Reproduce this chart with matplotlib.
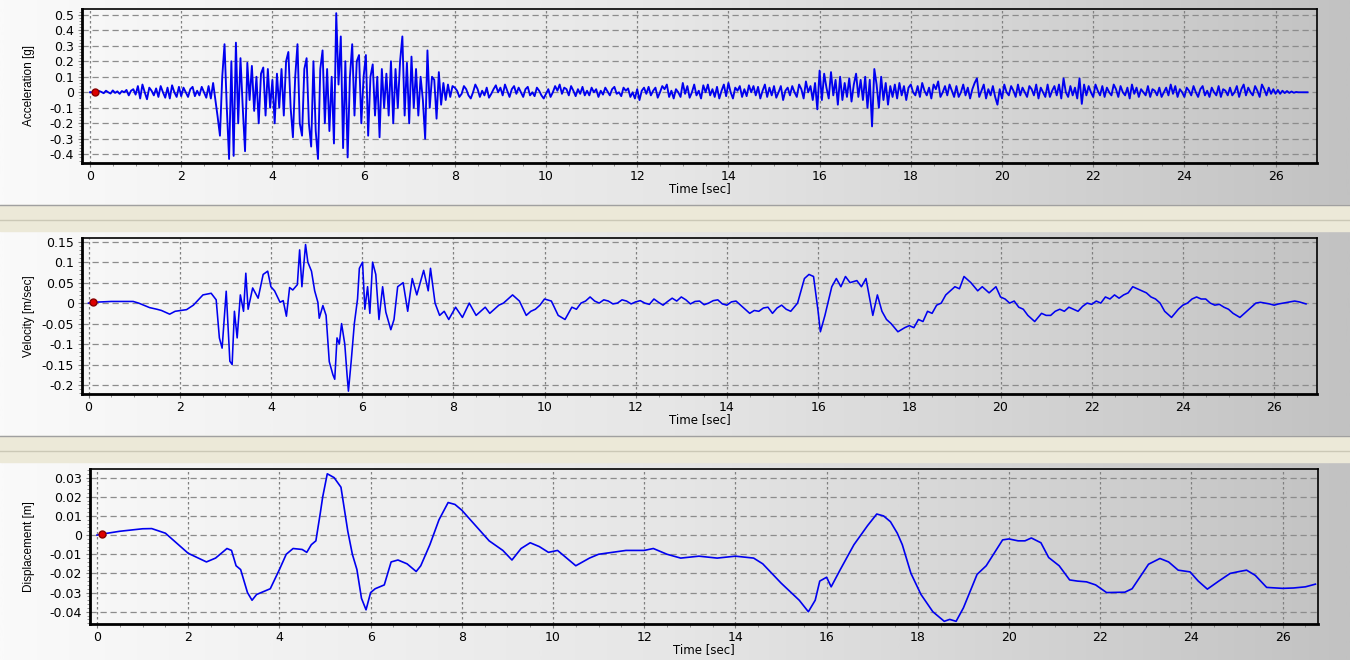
"""Acceleration / velocity / displacement time histories of a ground-motion record."""

import numpy as np
import matplotlib
matplotlib.use("Agg")
import matplotlib.pyplot as plt
from matplotlib.colors import LinearSegmentedColormap
from matplotlib.ticker import MultipleLocator, AutoMinorLocator, FormatStrFormatter

plt.rcParams["axes.unicode_minus"] = False

# --- Data --------------------------------------------------------------------
# acceleration, sampled every ACC_DT seconds, one row per second
ACC_DT = 0.05
ACC_G = [
    0, 0, 0.005, -0.005, 0.008, 0.002, -0.006, 0.01, 0.0, -0.008, 0.012, -0.004, 0.006, -0.01, 0.008, 0.0, 0.015, -0.02, 0.01, 0.02,
    -0.015, 0.04, -0.04, 0.05, 0.0, -0.045, 0.03, 0.01, -0.02, 0.025, -0.03, 0.04, 0.0, -0.035, 0.03, -0.04, 0.045, 0.0, -0.03, 0.035,
    -0.025, 0.03, 0.0, -0.03, 0.02, 0.035, -0.025, 0.01, -0.02, 0.035, 0.0, -0.035, 0.04, -0.04, 0.06, -0.05, -0.16, -0.28, 0.1, 0.31,
    -0.1, -0.43, 0.2, -0.41, 0.32, -0.2, 0.22, -0.1, -0.38, 0.19, -0.05, 0.17, -0.12, 0.1, -0.2, 0.12, 0.16, -0.15, 0.15, -0.1,
    0.08, -0.2, 0.12, -0.1, 0.15, -0.15, 0.2, 0.26, -0.1, -0.29, 0.1, 0.31, -0.2, -0.28, 0.15, 0.22, -0.2, -0.35, 0.2, -0.25,
    -0.43, 0.15, 0.27, -0.2, 0.15, -0.25, 0.1, -0.33, 0.51, 0.05, 0.36, -0.36, 0.2, -0.42, 0.1, 0.31, -0.15, 0.2, 0.24, -0.2,
    0.1, 0.24, -0.28, 0.1, 0.18, -0.15, 0.1, -0.29, 0.15, -0.1, 0.12, -0.15, 0.2, -0.2, 0.15, -0.1, 0.2, 0.36, -0.15, 0.19,
    -0.2, 0.23, -0.1, 0.15, -0.15, 0.1, -0.05, -0.3, 0.27, -0.1, 0.1, 0.08, -0.17, 0.13, -0.08, 0.06, -0.05, 0.05, -0.03, 0.04,
    0.03, 0.01, -0.03, -0.01, 0.04, 0.02, -0.02, -0.04, 0.0, 0.05, 0.02, -0.03, 0.01, -0.02, 0.03, -0.035, -0.01, 0.02, 0.045, 0.0,
    0.03, -0.02, 0.05, 0.01, -0.03, 0.02, 0.04, -0.01, 0.03, 0.0, -0.03, 0.02, 0.035, -0.02, 0.0, -0.025, 0.03, 0.01, -0.02, -0.04,
    -0.01, 0.02, -0.03, 0.0, 0.04, 0.01, 0.05, -0.01, 0.03, 0.02, -0.02, 0.04, 0.01, -0.025, 0.02, -0.01, 0.035, -0.02, 0.01, -0.02,
    0.03, 0.0, 0.02, -0.03, 0.01, -0.015, 0.03, 0.005, -0.02, 0.02, 0.035, -0.01, 0.0, -0.025, 0.03, 0.01, 0.025, -0.03, 0.0, -0.04,
    0.02, -0.05, 0.01, 0.03, -0.01, 0.035, -0.02, 0.01, 0.03, -0.035, 0.0, 0.04, 0.02, 0.05, -0.03, 0.01, -0.04, 0.02, 0.0, -0.03,
    0.06, -0.01, 0.04, -0.035, 0.0, 0.05, -0.02, 0.01, -0.04, 0.045, 0.0, 0.05, -0.02, 0.02, -0.03, 0.035, -0.04, 0.01, 0.05, -0.025,
    0.06, 0.0, -0.04, 0.03, 0.01, 0.04, -0.03, 0.02, -0.025, 0.045, 0.0, 0.04, -0.02, 0.035, -0.04, 0.01, 0.05, -0.03, 0.03, -0.02,
    0.04, -0.035, 0.0, 0.04, -0.05, 0.01, 0.03, -0.02, 0.04, 0.0, -0.03, 0.05, 0.02, -0.04, 0.07, 0.0, 0.04, -0.05, 0.06, -0.11,
    0.14, -0.05, 0.12, 0.03, -0.04, 0.13, -0.02, 0.08, -0.08, 0.1, -0.05, 0.06, -0.03, 0.09, -0.06, 0.05, 0.12, -0.03, 0.08, -0.05,
    0.1, -0.1, 0.08, -0.22, 0.15, 0.05, -0.1, 0.1, -0.05, 0.06, -0.08, 0.04, -0.03, 0.05, -0.04, 0.06, -0.02, 0.04, -0.05, 0.03,
    0.05, 0.0, -0.02, 0.04, -0.03, 0.06, 0.01, -0.02, 0.03, -0.04, 0.05, 0.02, 0.07, -0.03, 0.0, 0.04, -0.02, 0.05, 0.01, -0.03,
    0.04, -0.03, 0.0, 0.05, -0.02, 0.03, -0.04, 0.02, 0.06, 0.09, -0.03, 0.01, 0.05, -0.04, 0.02, -0.02, 0.04, -0.03, -0.08, 0.02,
    -0.04, 0.05, 0.0, -0.02, 0.04, 0.01, -0.03, 0.05, -0.02, 0.03, 0.0, -0.03, 0.04, 0.02, -0.02, 0.05, -0.04, 0.03, 0.0, -0.03,
    0.05, -0.03, 0.01, 0.04, -0.02, 0.05, -0.04, 0.09, 0.0, -0.03, 0.04, -0.02, 0.03, -0.04, 0.09, -0.075, 0.05, -0.02, 0.04, 0.0,
    -0.03, 0.05, 0.01, -0.02, 0.04, -0.03, 0.03, 0.0, -0.02, 0.05, 0.02, -0.03, 0.04, 0.0, -0.02, 0.03, -0.04, 0.05, -0.01, 0.03,
    -0.03, 0.02, 0.0, -0.02, 0.04, -0.03, 0.02, 0.01, -0.02, 0.03, -0.03, 0.0, 0.03, -0.02, 0.05, -0.01, 0.04, -0.03, 0.02, 0.0,
    -0.03, 0.03, 0.01, -0.02, 0.04, 0.0, -0.03, 0.02, 0.04, -0.02, 0.01, -0.03, 0.03, 0.0, -0.02, 0.04, -0.03, 0.02, 0.01, -0.02,
    0.03, -0.02, 0.0, 0.04, -0.03, 0.02, 0.05, -0.02, 0.03, 0.0, -0.02, 0.04, 0.01, -0.03, 0.05, 0.02, -0.02, 0.03, -0.01, 0.02,
    -0.01, 0.015, -0.01, 0.01, -0.005, 0.008, -0.004, 0.005, -0.003, 0.002, 0, 0, 0, 0, 0,
]

VEL_T = [
    0.0, 0.1, 0.5, 0.98, 1.1, 1.34, 1.5, 1.6, 1.78, 1.9, 2.15, 2.3, 2.51, 2.69, 2.8, 2.87, 2.93, 3.02,
    3.1, 3.15, 3.2, 3.26, 3.33, 3.4, 3.45, 3.5, 3.6, 3.72, 3.83, 3.93, 4.0, 4.08, 4.2, 4.27, 4.34,
    4.41, 4.48, 4.58, 4.63, 4.68, 4.76, 4.81, 4.89, 4.96, 5.03, 5.06, 5.14, 5.21, 5.28, 5.36, 5.4,
    5.45, 5.5, 5.55, 5.62, 5.67, 5.7, 5.76, 5.83, 5.9, 5.94, 6.01, 6.06, 6.12, 6.17, 6.23, 6.3,
    6.37, 6.45, 6.52, 6.63, 6.7, 6.78, 6.9, 7.0, 7.1, 7.2, 7.35, 7.45, 7.5, 7.6, 7.7, 7.8, 7.9,
    8.05, 8.2, 8.35, 8.5, 8.6, 8.7, 8.8, 8.9, 9.0, 9.1, 9.3, 9.45, 9.6, 9.7, 9.8, 9.9, 10.0, 10.15,
    10.3, 10.45, 10.6, 10.7, 10.8, 10.9, 11.0, 11.1, 11.2, 11.3, 11.4, 11.5, 11.6, 11.7, 11.8, 11.9,
    12.0, 12.1, 12.2, 12.3, 12.4, 12.5, 12.6, 12.7, 12.8, 12.9, 13.0, 13.1, 13.2, 13.3, 13.4, 13.5,
    13.6, 13.7, 13.8, 13.9, 14.0, 14.1, 14.2, 14.35, 14.5, 14.6, 14.7, 14.8, 14.9, 15.0, 15.1,
    15.2, 15.3, 15.4, 15.55, 15.7, 15.8, 15.9, 16.0, 16.05, 16.15,
    16.3, 16.4, 16.5, 16.6, 16.7, 16.85, 16.95, 17.05, 17.15, 17.2, 17.3, 17.4, 17.5, 17.6, 17.75,
    17.9, 18.0, 18.1, 18.2, 18.3, 18.4, 18.5, 18.6, 18.7, 18.8, 19.0, 19.1, 19.2, 19.35, 19.5, 19.6,
    19.75, 19.9, 20.0, 20.1, 20.2, 20.3, 20.4, 20.5, 20.6, 20.75, 20.9, 21.0, 21.1, 21.2, 21.3, 21.4,
    21.5, 21.6, 21.7, 21.8, 21.9, 22.0, 22.1, 22.2, 22.3, 22.4, 22.5, 22.6, 22.7, 22.8, 22.9, 23.0,
    23.1, 23.2, 23.3, 23.4, 23.5, 23.6, 23.75, 23.9, 24.0, 24.1, 24.2, 24.3, 24.4, 24.5, 24.6, 24.7,
    24.8, 24.9, 25.0, 25.1, 25.25, 25.4, 25.5, 25.6, 25.7, 25.8, 25.9, 26.0, 26.1, 26.2, 26.3, 26.45,
    26.55, 26.7,
]
VEL_MS = [
    0.0, 0.002, 0.004, 0.004, 0.0, -0.011, -0.015, -0.018, -0.027, -0.02, -0.016, -0.005, 0.02, 0.024, 0.008, -0.085, -0.11, 0.029,
    -0.142, -0.15, -0.02, -0.085, 0.02, -0.02, 0.073, -0.015, 0.037, 0.012, 0.07, 0.078, 0.04, 0.03, 0.002, 0.006, -0.032,
    0.038, 0.032, 0.045, 0.13, 0.04, 0.143, 0.10, 0.078, 0.03, 0.002, -0.037, -0.006, -0.03, -0.143, -0.175, -0.186,
    -0.085, -0.1, -0.05, -0.1, -0.175, -0.215, -0.143, -0.05, 0.01, 0.085, 0.1, -0.015, 0.04, -0.025, 0.1, 0.07,
    -0.04, 0.04, -0.022, -0.065, -0.04, 0.04, 0.05, -0.02, 0.06, 0.02, 0.08, 0.03, 0.085, 0.0, -0.03, -0.02, -0.04,
    -0.01, -0.035, 0.0, -0.03, -0.02, -0.01, -0.025, -0.015, -0.005, 0.0, 0.02, 0.005, -0.03, -0.02, -0.015, -0.005, 0.01, 0.005,
    -0.03, -0.04, -0.01, -0.015, 0.0, 0.005, 0.015, 0.005, 0.0, 0.008, 0.005, -0.002, 0.0, 0.008, 0.005, -0.002,
    0.003, 0.006, 0.0, -0.003, 0.01, 0.002, -0.005, 0.004, 0.012, 0.005, 0.015, 0.008, -0.002, 0.004, 0.005, -0.004,
    0.0, 0.006, 0.008, -0.002, -0.005, 0.003, 0.005, -0.01, -0.025, -0.018, -0.02, -0.012, -0.01, -0.025, -0.012,
    -0.005, -0.015, -0.02, 0.0, 0.06, 0.07, 0.065, -0.02, -0.07, -0.03,
    0.04, 0.06, 0.04, 0.065, 0.05, 0.055, 0.04, 0.06, 0.0, -0.03, 0.02, -0.02, -0.04, -0.05, -0.07,
    -0.06, -0.055, -0.06, -0.04, -0.045, -0.02, -0.025, -0.005, 0.0, 0.02, 0.04, 0.035, 0.065, 0.05, 0.03, 0.04,
    0.025, 0.04, 0.015, 0.01, 0.0, 0.005, -0.01, -0.015, -0.03, -0.045, -0.025, -0.03, -0.03, -0.02, -0.015, -0.02,
    -0.01, -0.015, -0.02, -0.008, 0.0, -0.003, 0.005, 0.0, 0.015, 0.01, 0.02, 0.012, 0.02, 0.025, 0.04, 0.035,
    0.03, 0.025, 0.015, 0.01, 0.0, -0.02, -0.035, -0.015, -0.005, 0.0, 0.01, 0.015, 0.01, 0.01, 0.0, -0.005,
    -0.003, -0.01, -0.015, -0.025, -0.035, -0.02, -0.01, 0.0, 0.002, 0.0, -0.002, -0.005, -0.002, 0.0, 0.002, 0.005,
    0.003, -0.002,
]

DISP_T = [
    0.0, 0.1, 0.5, 1.0, 1.2, 1.5, 2.0, 2.4, 2.6, 2.85, 2.95, 3.05, 3.15, 3.3, 3.4, 3.5, 3.8, 4.0,
    4.15, 4.3, 4.5, 4.6, 4.7, 4.8, 4.9, 4.95, 5.05, 5.2, 5.35, 5.5, 5.6, 5.7, 5.8, 5.9, 6.0, 6.1,
    6.3, 6.45, 6.6, 6.8, 7.0, 7.1, 7.3, 7.5, 7.7, 7.85, 8.0, 8.3, 8.6, 8.9, 9.1, 9.3, 9.5, 9.7,
    9.9, 10.1, 10.3, 10.5, 10.8, 11.0, 11.3, 11.6, 12.0, 12.2, 12.5, 12.8, 13.2, 13.6, 14.0, 14.4,
    14.6, 15.0, 15.4, 15.6, 15.75, 15.85, 16.0, 16.1, 16.3, 16.6, 16.9, 17.1, 17.25, 17.4, 17.55,
    17.66, 17.85, 18.07, 18.33, 18.58, 18.7, 18.84, 19.0, 19.3, 19.5, 19.86, 20.0, 20.2, 20.35,
    20.49, 20.7, 20.87, 21.1, 21.33, 21.5, 21.7, 21.9, 22.14, 22.54, 22.7, 23.06, 23.31, 23.5,
    23.71, 23.97, 24.15, 24.35, 24.6, 24.85, 25.05, 25.21, 25.4, 25.65, 26.0, 26.24, 26.5, 26.72,
]
DISP_M = [
    0.0, 0.0005, 0.002, 0.0033, 0.0034, 0.001, -0.0095, -0.014, -0.012, -0.007, -0.008, -0.016, -0.018, -0.03, -0.034, -0.031, -0.028, -0.018,
    -0.01, -0.007, -0.0075, -0.009, -0.005, -0.003, 0.012, 0.02, 0.032, 0.03, 0.025, 0.002, -0.01, -0.018, -0.033, -0.039, -0.03, -0.028,
    -0.026, -0.014, -0.013, -0.015, -0.019, -0.016, -0.005, 0.008, 0.017, 0.016, 0.013, 0.005, -0.003, -0.008, -0.013, -0.007, -0.004, -0.006,
    -0.009, -0.008, -0.012, -0.016, -0.012, -0.01, -0.009, -0.008, -0.008, -0.007, -0.01, -0.012, -0.011, -0.012, -0.011, -0.012,
    -0.015, -0.025, -0.034, -0.04, -0.034, -0.024, -0.022, -0.027, -0.018, -0.005, 0.005, 0.011, 0.01, 0.007, 0.001,
    -0.005, -0.02, -0.031, -0.04, -0.045, -0.044, -0.045, -0.038, -0.0205, -0.016, -0.0025, -0.002, -0.003, -0.003,
    -0.0015, -0.004, -0.0117, -0.016, -0.0234, -0.024, -0.0244, -0.026, -0.030, -0.0298, -0.028, -0.0152, -0.0122, -0.014,
    -0.0183, -0.0192, -0.024, -0.0282, -0.024, -0.020, -0.019, -0.0183, -0.021, -0.0273, -0.0278, -0.0276, -0.027, -0.0256,
]

# start marker of the record
MARK_T = 0.1

PANELS = [
    # (label, major y step, y limits)
    ("Acceleration [g]", 0.1, (-0.456, 0.537)),
    ("Velocity [m/sec]", 0.05, (-0.222, 0.159)),
    ("Displacement [m]", 0.01, (-0.0464, 0.0345)),
]

# --- Figure ------------------------------------------------------------------
W, H = 1350, 660
fig = plt.figure(figsize=(W / 100, H / 100), dpi=100)

# window-like grey gradient behind everything
bg = fig.add_axes([0, 0, 1, 1], zorder=-10)
grad = np.linspace(0, 1, 512).reshape(1, -1)
cmap = LinearSegmentedColormap.from_list("win", ["#fafafa", "#e6e6e6", "#c2c2c2"])
bg.imshow(grad, extent=[0, 1, 0, 1], aspect="auto", cmap=cmap, origin="lower")
# beige splitter bars between the panels
for top, bot in [(205, 231), (436, 462)]:
    y0, y1 = 1 - bot / H, 1 - top / H
    bg.axhspan(y0, y1, color="#ece9d8", zorder=2)
    bg.axhline(y1, color="#a0a0a0", linewidth=1, zorder=3)
    bg.axhline(1 - (top + 15) / H, color="#cbc8b6", linewidth=1, zorder=3)
bg.set_xlim(0, 1)
bg.set_ylim(0, 1)
bg.axis("off")

# axes boxes in pixels: left, top, right, bottom
boxes = [(82, 9, 1317, 163), (82, 238, 1317, 394), (90, 469, 1318, 624)]
zero_px = [90, 88.5, 97]
px_per_s = 45.6

t_acc = np.arange(len(ACC_G)) * ACC_DT
series = [(t_acc, np.array(ACC_G), 1.35),
          (np.array(VEL_T), np.array(VEL_MS), 1.15),
          (np.array(DISP_T), np.array(DISP_M), 1.2)]

for (label, ystep, ylim), (l, t, r, b), z0, (xs, ys, lw) in zip(PANELS, boxes, zero_px, series):
    ax = fig.add_axes([l / W, 1 - b / H, (r - l) / W, (b - t) / H])
    ax.set_facecolor("none")
    ax.set_xlim(-(z0 - l) / px_per_s, (r - z0) / px_per_s)
    ax.set_ylim(*ylim)

    ax.plot(xs, ys, color="#0000f0", linewidth=lw, zorder=3)
    ax.plot([MARK_T], [np.interp(MARK_T, xs, ys)], "o", color="#dd0000",
            markeredgecolor="#880000", markersize=5, zorder=4)

    ax.xaxis.set_major_locator(MultipleLocator(2))
    ax.xaxis.set_minor_locator(MultipleLocator(0.5))
    ax.yaxis.set_major_locator(MultipleLocator(ystep))
    ax.yaxis.set_minor_locator(AutoMinorLocator(5))
    ax.yaxis.set_major_formatter(FormatStrFormatter("%g"))
    ax.xaxis.set_major_formatter(FormatStrFormatter("%g"))

    ax.grid(True, axis="x", which="major", color="#808080", linestyle=(0, (2, 2)), linewidth=0.9)
    ax.grid(True, axis="y", which="major", color="#8c8c8c", linestyle=(0, (5, 3)), linewidth=0.9)

    ax.tick_params(axis="both", which="major", labelsize=9, color="#808080", length=3, width=0.8)
    ax.tick_params(axis="both", which="minor", color="#808080", length=2, width=0.6)
    ax.tick_params(axis="x", pad=2)
    ax.tick_params(axis="y", pad=3)
    for lab in ax.get_xticklabels() + ax.get_yticklabels():
        lab.set_family("DejaVu Sans")

    for side, sp in ax.spines.items():
        sp.set_color("black")
        sp.set_linewidth(2.0 if side in ("left", "bottom") else 1.2)

    ax.set_xlabel("Time [sec]", fontsize=8.5, family="DejaVu Sans", labelpad=-1)
    fig.text(29 / W, 1 - (t + b) / 2 / H, label, rotation=90, ha="center", va="center",
             fontsize=8.5, family=["Liberation Sans", "DejaVu Sans"])

fig.savefig("out.png", dpi=100)
